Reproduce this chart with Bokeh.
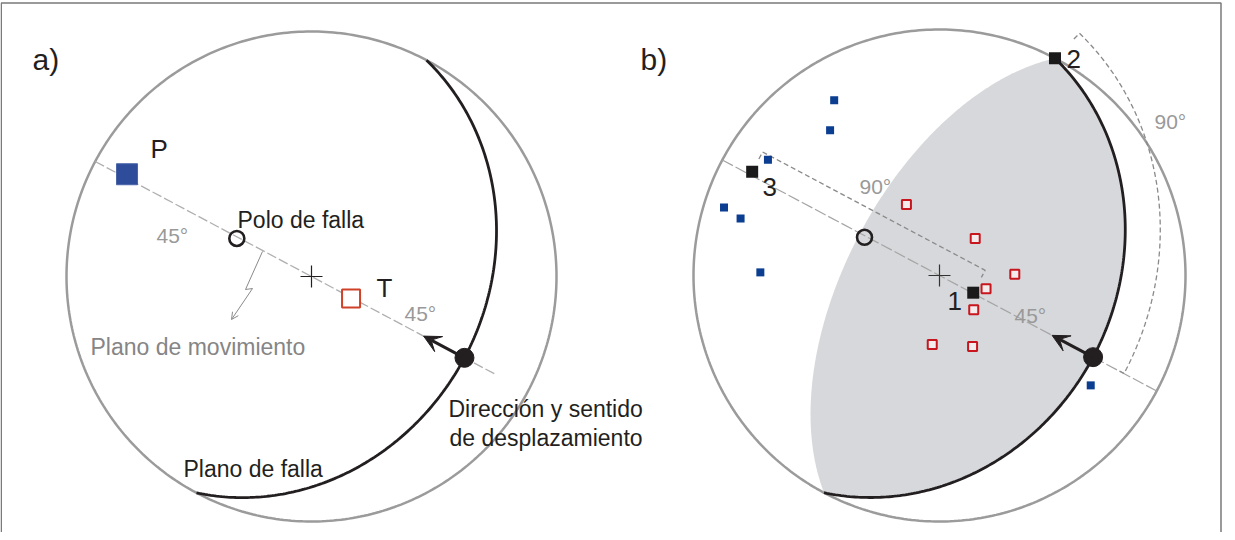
import numpy as np
from bokeh.plotting import figure
from bokeh.models import Range1d, Arrow, VeeHead, OpenHead
from bokeh.core.properties import value
from bokeh.embed import file_html
from bokeh.resources import INLINE

# ---------------- data: (trend deg, plunge deg), lower-hemisphere equal-area net
fault_dipdir, fault_dip = 118, 30      # fault plane (both panels)
aux_dipdir, aux_dip = 298, 60          # auxiliary plane (edge of shaded field, panel b)
move_trend = 298                       # trace of the movement plane

a_names = ["P", "T", "pole", "slip", "arrow_tip"]
a_trend = [299, 119, 297, 118, 118]
a_plunge = [15, 75, 62, 30, 47]

blue_trend = [329, 323, 304, 287.5, 286, 271, 126]
blue_plunge = [18, 27, 17, 9, 17, 28, 25]
red_trend = [335, 44, 89, 106, 135, 186, 155]
red_plunge = [64, 73, 65, 74, 74, 67, 64]
stress_labels = ["1", "2", "3"]
stress_trend = [117, 28, 299]
stress_plunge = [77.5, 0, 14]
b_slip = [118, 30]
b_arrow_tip = [118, 47]

# ---------------- layout
W, H = 1222, 532
def sx(x):
    return x - 8
def sy(y):
    return 540 - y
CA = (sx(319), sy(284)); RA = 245
CB = (sx(947), sy(283)); RB = 246
FONT = value("Liberation Sans")
BLACK = "#231F20"
GRAY_T = "#8C8C8C"

def project(trend, plunge, c, R):
    t = np.radians(np.asarray(trend, float))
    pl = np.radians(np.asarray(plunge, float))
    d = R * np.sqrt(2) * np.sin((np.pi / 2 - pl) / 2)
    return c[0] + d * np.sin(t), c[1] + d * np.cos(t)

def great_circle(dipdir, dip, a0=0, a1=180, n=240):
    al = np.radians(np.linspace(a0, a1, n))
    s = np.radians(dipdir - 90); dd = np.radians(dipdir); de = np.radians(dip)
    E = np.cos(al) * np.sin(s) + np.sin(al) * np.cos(de) * np.sin(dd)
    N = np.cos(al) * np.cos(s) + np.sin(al) * np.cos(de) * np.cos(dd)
    Z = np.sin(al) * np.sin(de)
    tr = np.degrees(np.arctan2(E, N))
    pl = np.degrees(np.arcsin(np.clip(Z, -1, 1)))
    return tr, pl

def circle_xy(c, R, n=400):
    th = np.linspace(0, 2 * np.pi, n)
    return c[0] + R * np.cos(th), c[1] + R * np.sin(th)

p = figure(width=W, height=H, x_range=Range1d(0, W), y_range=Range1d(0, H),
           output_backend="svg", toolbar_location=None, min_border=0,
           x_axis_location=None, y_axis_location=None, outline_line_color=None,
           background_fill_color="white", border_fill_color="white")
p.grid.visible = False

# frame
p.line([0.75, 0.75, sx(1228.5), sx(1228.5)], [-10, sy(10.5), sy(10.5), -10],
       line_color="#7A7A7A", line_width=1.5)

e_dir = np.array([np.sin(np.radians(move_trend + 180)), np.cos(np.radians(move_trend + 180))])
n_perp = np.array([-e_dir[1], e_dir[0]]) * -1  # toward upper-right
if n_perp[1] < 0:
    n_perp = -n_perp

# ================= panel b shading (drawn first)
ftr, fpl = great_circle(fault_dipdir, fault_dip)
atr, apl = great_circle(aux_dipdir, aux_dip)
fx, fy = project(ftr, fpl, CB, RB)
ax_, ay_ = project(atr, apl, CB, RB)
p.patch(np.concatenate([fx, ax_]), np.concatenate([fy, ay_]),
        fill_color="#D7D8DB", line_color=None)

# ================= primitives
for c, R in [(CA, RA), (CB, RB)]:
    x, y = circle_xy(c, R)
    p.line(x, y, line_color="#9B9B9B", line_width=2.5)

# ================= panel a
# movement-plane trace
s0 = np.array(CA) - e_dir * RA
s1 = np.array(CA) + e_dir * RA * 0.853
p.line([s0[0], s1[0]], [s0[1], s1[1]], line_color="#AFAFAF", line_width=1.3, line_dash="10 3")
# fault plane
gx, gy = project(ftr, fpl, CA, RA)
p.line(gx, gy, line_color=BLACK, line_width=2.8)

# lightning pointer (plano de movimiento)
zz = np.array([(-49, 25), (-66, -13), (-59, -12), (-80, -43)], float)
p.line(CA[0] + zz[:3, 0], CA[1] + zz[:3, 1], line_color="#8A8A8A", line_width=1)
p.add_layout(Arrow(end=OpenHead(size=7, line_color="#8A8A8A", line_width=1),
                   x_start=CA[0] + zz[2, 0], y_start=CA[1] + zz[2, 1],
                   x_end=CA[0] + zz[3, 0], y_end=CA[1] + zz[3, 1],
                   line_color="#8A8A8A", line_width=1))

axx, axy = project(a_trend, a_plunge, CA, RA)
# center cross
p.scatter([CA[0]], [CA[1]], marker="cross", size=22, line_color=BLACK, line_width=1.2)
# P
p.scatter([axx[0]], [axy[0]], marker="square", size=21, fill_color="#2F4C9B", line_color="#4A64A8", line_width=1)
# T
p.scatter([axx[1]], [axy[1]], marker="square", size=18, fill_color="white", line_color="#CF4128", line_width=2)
# pole
p.scatter([axx[2]], [axy[2]], marker="circle", size=15, fill_color=None, line_color=BLACK, line_width=2.6)
# slip arrow and dot
p.add_layout(Arrow(end=VeeHead(size=17, fill_color=BLACK, line_color=BLACK),
                   x_start=axx[3], y_start=axy[3], x_end=axx[4], y_end=axy[4],
                   line_color=BLACK, line_width=3))
p.scatter([axx[3]], [axy[3]], marker="circle", size=19, fill_color=BLACK, line_color=BLACK)

# ================= panel b
s0 = np.array(CB) - e_dir * RB
s1 = np.array(CB) + e_dir * RB
p.line([s0[0], s1[0]], [s0[1], s1[1]], line_color="#A5A5A5", line_width=1.2, line_dash="12 3")

bx_, by_ = project(stress_trend, stress_plunge, CB, RB)
slx, sly = project([b_slip[0], b_arrow_tip[0]], [b_slip[1], b_arrow_tip[1]], CB, RB)

# straight 90 deg bracket between 3 and 1
c = np.array(CB)
al3 = np.dot(np.array([bx_[2], by_[2]]) - c, e_dir)
al1 = np.dot(np.array([bx_[0], by_[0]]) - c, e_dir)
q3 = c + al3 * e_dir + 26 * n_perp
q1 = c + al1 * e_dir + 26 * n_perp
t3 = q3 - 8 * n_perp
t1 = q1 - 8 * n_perp
p.line([t3[0], q3[0], q1[0], t1[0]], [t3[1], q3[1], q1[1], t1[1]],
       line_color="#8A8A8A", line_width=1.3, line_dash="5 3")

# curved 90 deg bracket between 2 and slip vector (parallel to fault trace)
htr, hpl = great_circle(fault_dipdir, fault_dip, 0, 90, 120)
hx, hy = project(htr, hpl, CB, RB)
dx = np.gradient(hx); dy = np.gradient(hy)
nx, ny = dy, -dx
nn = np.hypot(nx, ny); nx /= nn; ny /= nn
sgn = np.sign(nx * (hx - CB[0]) + ny * (hy - CB[1]))
nx *= sgn; ny *= sgn
ox, oy = hx + 35 * nx, hy + 35 * ny
bxs = np.concatenate([[ox[0] - 8 * nx[0]], ox, [ox[-1] - 8 * nx[-1]]])
bys = np.concatenate([[oy[0] - 8 * ny[0]], oy, [oy[-1] - 8 * ny[-1]]])
p.line(bxs, bys, line_color="#8A8A8A", line_width=1.3, line_dash="5 3")

# fault plane
p.line(fx, fy, line_color=BLACK, line_width=2.8)

# center cross
p.scatter([CB[0]], [CB[1]], marker="cross", size=22, line_color="#333333", line_width=1.2)

# data points
blx, bly = project(blue_trend, blue_plunge, CB, RB)
p.scatter(blx, bly, marker="square", size=8, fill_color="#0B3D91", line_color=None)
rdx, rdy = project(red_trend, red_plunge, CB, RB)
p.scatter(rdx, rdy, marker="square", size=9, fill_color="#F4ECEC", line_color="#C8161E", line_width=2)
p.scatter(bx_, by_, marker="square", size=12, fill_color="#1A1A1A", line_color=None)

# pole in b
pbx, pby = project([a_trend[2]], [a_plunge[2]], CB, RB)
p.scatter(pbx, pby, marker="circle", size=15, fill_color=None, line_color=BLACK, line_width=2.6)

p.add_layout(Arrow(end=VeeHead(size=17, fill_color=BLACK, line_color=BLACK),
                   x_start=slx[0], y_start=sly[0], x_end=slx[1], y_end=sly[1],
                   line_color=BLACK, line_width=3))
p.scatter([slx[0]], [sly[0]], marker="circle", size=19, fill_color=BLACK, line_color=BLACK)

# ================= texts
def txt(items, size, color):
    p.text(x=[sx(i[0]) for i in items], y=[sy(i[1]) for i in items],
           text=[i[2] for i in items], text_font=FONT, text_font_size=size,
           text_color=color, text_align="left", text_baseline="alphabetic")

txt([(40, 67, "a)"), (648, 67, "b)")], "30px", BLACK)
txt([(158, 156, "P"), (384, 295, "T"), (1074, 66, stress_labels[1]),
     (770, 194, stress_labels[2]), (955, 308, stress_labels[0])], "26px", BLACK)
txt([(245, 227, "Polo de falla"), (456, 416, "Dirección y sentido"),
     (457, 445, "de desplazamiento"), (191, 476, "Plano de falla")], "23px", BLACK)
txt([(98, 354, "Plano de movimiento")], "23px", "#858585")
txt([(164, 243, "45°"), (412, 321, "45°"), (1022, 323, "45°"),
     (1162, 129, "90°"), (867, 194, "90°")], "21px", "#999999")

open("out.html", "w").write(file_html(p, INLINE))
